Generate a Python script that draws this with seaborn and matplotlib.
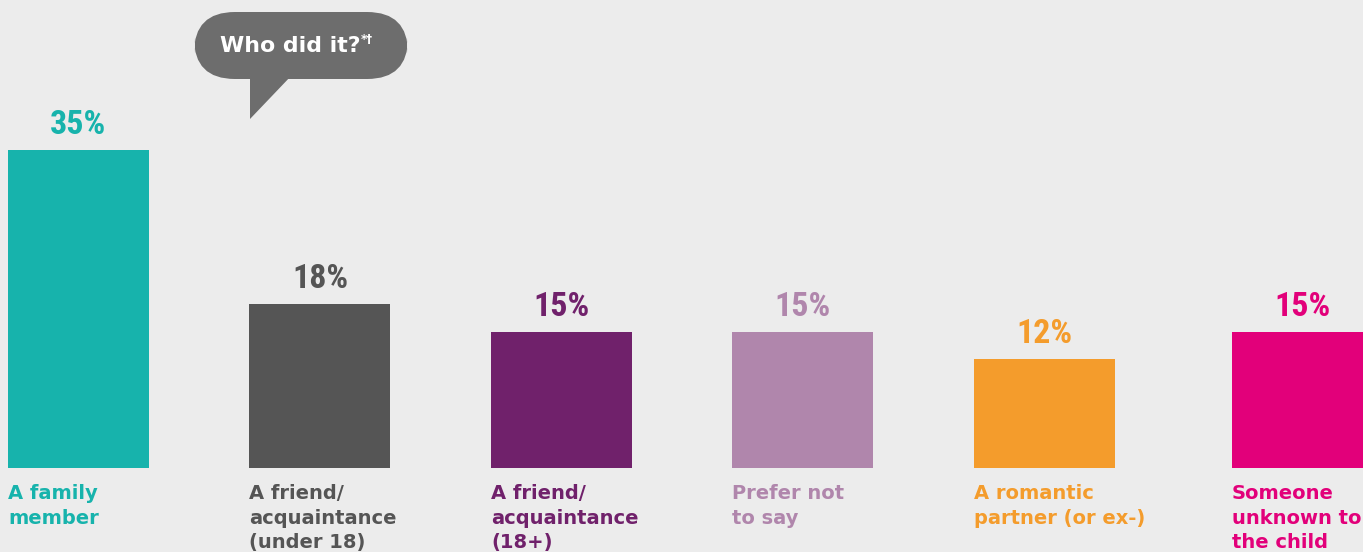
import matplotlib
matplotlib.use("Agg")
import matplotlib.pyplot as plt
from matplotlib import font_manager
import seaborn as sns
import pandas as pd
from matplotlib.patches import FancyBboxPatch, Polygon

categories = ["A family\nmember",
              "A friend/\nacquaintance\n(under 18)",
              "A friend/\nacquaintance\n(18+)",
              "Prefer not\nto say",
              "A romantic\npartner (or ex-)",
              "Someone\nunknown to\nthe child"]
values = [35, 18, 15, 15, 12, 15]
colors = ["#17B3AC", "#555555", "#70216B", "#B086AC", "#F49C2C", "#E2007A"]
positions = [0, 1, 2, 3, 4, 5.068]
title = "Who did it?"
title_sup = "*†"

bg = "#ECECEC"
sns.set_theme(style="white")
plt.rcParams["font.family"] = ["DejaVu Sans"]

# choose a condensed face for the percentage labels if one is installed
installed = {f.name for f in font_manager.fontManager.ttflist}
num_font, num_size = "DejaVu Sans", 19
for cand in ["Liberation Sans Narrow", "Roboto Condensed", "Open Sans Condensed",
             "DejaVu Sans Condensed"]:
    if cand in installed:
        num_font, num_size = cand, 24.5
        break

fig = plt.figure(figsize=(13.63, 5.52), dpi=100, facecolor=bg)
ax = fig.add_axes([0, 0, 1, 1])
ax.set_facecolor(bg)

df = pd.DataFrame({"pos": positions, "value": values, "cat": categories})
sns.barplot(data=df, x="pos", y="value", hue="cat", palette=colors,
            hue_order=categories, native_scale=True, dodge=False,
            width=0.584, legend=False, ax=ax, saturation=1, linewidth=0,
            edgecolor="none")

ax.set_xlim(-0.325, 5.319)
ax.set_ylim(-9.245, 51.5)
ax.axis("off")

for p, v, c, lab in zip(positions, values, colors, categories):
    ax.text(p, v + 1.0, f"{v}%", ha="center", va="bottom", color=c,
            fontsize=num_size, fontweight="bold", fontstretch="condensed",
            family=[num_font, "DejaVu Sans"])
    ax.text(p - 0.292, -1.78, lab, ha="left", va="top", color=c,
            fontsize=14, fontweight="bold", linespacing=1.36,
            family=["DejaVu Sans"])

# speech bubble (figure-fraction coordinates)
W, H = 1363, 552
bx0, by0, bx1, by1 = 194, 12, 408, 79
bubble = FancyBboxPatch((bx0 / W, 1 - by1 / H), (bx1 - bx0) / W, (by1 - by0) / H,
                        boxstyle="round,pad=0,rounding_size=0.03",
                        transform=fig.transFigure, facecolor="#6D6D6D",
                        edgecolor="none", mutation_aspect=W / H)
fig.patches.append(bubble)
tail = Polygon([(250 / W, 1 - 75 / H), (250 / W, 1 - 119 / H), (292 / W, 1 - 75 / H)],
               closed=True, transform=fig.transFigure, facecolor="#6D6D6D",
               edgecolor="none")
fig.patches.append(tail)
fig.text(220 / W, 1 - 46 / H, title, ha="left", va="center", color="white",
         fontsize=15.8, fontweight="bold", family=["DejaVu Sans"])
fig.text(361 / W, 1 - 40 / H, title_sup, ha="left", va="center", color="white",
         fontsize=8.5, fontweight="bold", family=["DejaVu Sans"])

fig.savefig("out.png", dpi=100, facecolor=bg)
